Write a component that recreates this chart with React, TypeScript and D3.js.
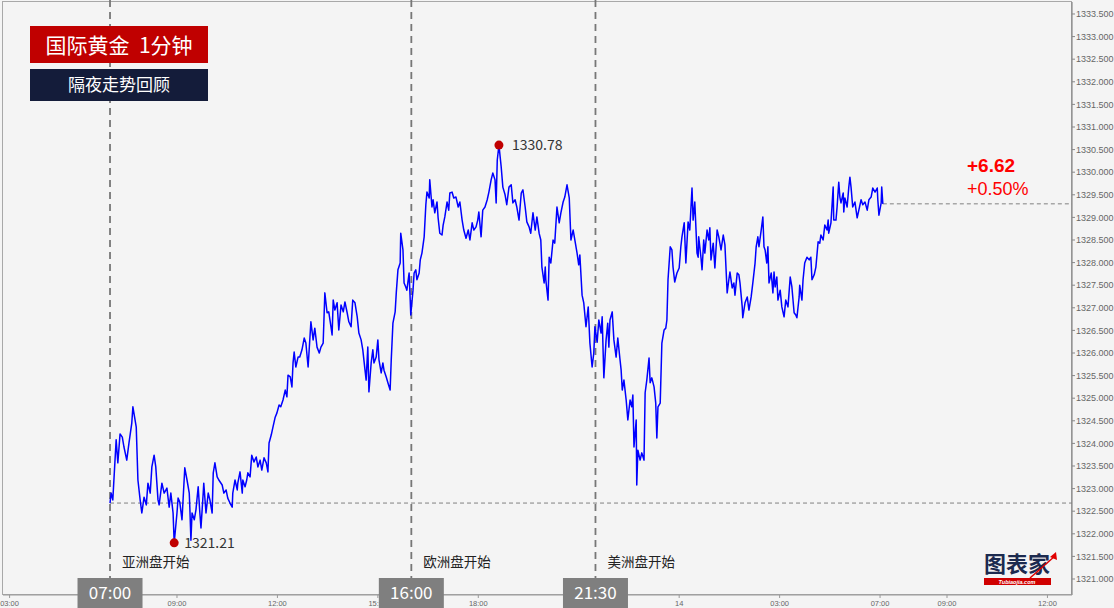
import React from 'react';
import * as d3 from 'd3';

// [trading minute since 07:00 on the 13th (05:00-06:00 pause removed), price]
type Pt = [number, number];

const asiaSession: Pt[] = [
  [0, 1322.68], [2, 1322.9], [5, 1322.75], [11, 1324.08], [14, 1323.57], [18, 1324.21], [22, 1324.14], [25, 1323.92],
  [30, 1323.63], [34, 1324.01], [39, 1324.45], [41, 1324.81], [47, 1324.36], [50, 1323.19], [54, 1322.75], [57, 1322.46],
  [61, 1322.81], [65, 1322.64], [68, 1323.12], [72, 1322.9], [75, 1323.48], [79, 1323.74], [82, 1323.48], [86, 1322.75],
  [88, 1322.64], [93, 1323.12], [97, 1322.9], [102, 1323.01], [106, 1322.59], [109, 1322.9], [113, 1322.46], [115, 1321.8],
  [120, 1322.46], [122, 1322.79], [125, 1322.7], [129, 1322.31], [134, 1323.46], [138, 1323.19], [142, 1322.9], [143, 1322.59],
  [145, 1321.86], [147, 1322.46], [151, 1322.31], [154, 1322.53], [158, 1323.04], [161, 1322.46], [163, 1322.13], [167, 1322.9],
  [168, 1323.12], [172, 1322.46], [176, 1322.9], [179, 1322.75], [183, 1322.46], [185, 1323.35], [188, 1323.57], [192, 1323.26],
  [195, 1323.19], [201, 1323.08], [204, 1322.9], [208, 1322.97], [211, 1322.79], [215, 1322.68], [219, 1322.59], [220, 1322.9],
  [224, 1323.19], [228, 1322.97], [229, 1323.12], [233, 1323.37], [237, 1322.9], [238, 1323.19], [242, 1323.04], [245, 1323.19],
  [247, 1323.35], [251, 1323.26], [254, 1323.74], [258, 1323.59], [262, 1323.7], [265, 1323.48], [269, 1323.63], [272, 1323.41],
  [276, 1323.68], [280, 1323.57], [283, 1323.37], [285, 1324.01], [289, 1324.19], [292, 1324.36], [296, 1324.58], [299, 1324.67],
  [303, 1324.85], [306, 1324.81], [310, 1324.96], [314, 1325.18], [317, 1325.03], [319, 1325.51], [323, 1325.47], [326, 1325.25],
  [328, 1325.78], [330, 1326.02], [333, 1325.69], [337, 1325.91], [340, 1325.91], [344, 1326.07], [348, 1326.33], [351, 1326.22],
  [355, 1325.69], [360, 1326.69], [364, 1326.29], [367, 1326.55], [371, 1326.13], [375, 1326.0], [378, 1326.13], [382, 1326.22],
  [385, 1327.33], [389, 1326.89], [392, 1326.91], [396, 1326.58], [398, 1326.4], [400, 1327.17], [403, 1326.95], [407, 1327.11],
  [410, 1326.51], [414, 1327.06], [418, 1326.91], [421, 1327.13], [425, 1326.89], [428, 1326.69], [432, 1326.58], [435, 1327.17],
  [439, 1327.11], [443, 1326.8], [446, 1326.44], [450, 1326.29], [453, 1326.07], [457, 1325.62], [459, 1325.4], [462, 1326.13],
  [464, 1325.14], [468, 1325.78], [471, 1326.07], [473, 1325.78], [477, 1325.91], [480, 1326.29], [482, 1325.85], [486, 1325.56],
  [489, 1325.78], [491, 1325.62], [495, 1325.47], [498, 1325.34], [502, 1325.18], [504, 1325.85], [507, 1326.66], [511, 1326.91],
  [513, 1327.33], [516, 1327.84], [520, 1327.99], [521, 1328.65], [525, 1328.28], [527, 1327.55], [530, 1327.46], [532, 1327.39],
  [536, 1327.77], [538, 1327.17], [539, 1326.84],
];

const europeSession: Pt[] = [
  [543, 1327.39], [545, 1327.77], [548, 1327.84], [550, 1327.62], [554, 1327.77], [556, 1328.06], [559, 1328.21], [563, 1328.57],
  [566, 1329.28], [568, 1329.56], [572, 1329.43], [573, 1329.83], [577, 1329.23], [579, 1329.39], [582, 1329.1], [586, 1329.34],
  [588, 1328.99], [591, 1328.65], [595, 1328.61], [597, 1328.83], [600, 1329.01], [604, 1329.34], [607, 1329.16], [609, 1329.54],
  [613, 1329.56], [616, 1329.43], [620, 1329.45], [624, 1329.23], [627, 1329.34], [631, 1328.94], [634, 1328.72], [638, 1328.54],
  [642, 1328.72], [645, 1328.5], [649, 1328.88], [652, 1328.72], [656, 1328.79], [659, 1328.94], [661, 1329.12], [665, 1328.57],
  [668, 1329.16], [672, 1329.23], [676, 1329.39], [679, 1329.56], [683, 1329.83], [686, 1329.98], [690, 1329.83], [692, 1329.32],
  [694, 1330.27], [697, 1330.6], [701, 1330.12], [704, 1329.67], [708, 1329.5], [711, 1329.28], [715, 1329.67], [719, 1329.72],
  [722, 1329.32], [726, 1329.39], [729, 1329.23], [733, 1328.94], [737, 1329.54], [740, 1329.61], [744, 1329.23], [747, 1328.9],
  [751, 1328.79], [754, 1328.65], [758, 1329.1], [762, 1328.72], [765, 1329.01], [769, 1328.65], [772, 1328.5], [774, 1327.9],
  [778, 1327.55], [780, 1327.9], [781, 1327.62], [785, 1327.17], [787, 1328.12], [790, 1327.99], [794, 1328.5], [797, 1328.43],
  [801, 1329.23], [805, 1328.88], [808, 1329.1], [812, 1329.34], [815, 1329.45], [819, 1329.72], [823, 1329.43], [826, 1328.5],
  [830, 1328.72], [833, 1328.5], [837, 1328.21], [840, 1327.95], [842, 1328.17], [846, 1327.28], [849, 1327.11], [853, 1326.58],
  [857, 1327.02], [860, 1326.22], [864, 1325.69], [867, 1326.0], [869, 1326.58],
];

const usSession: Pt[] = [
  [873, 1326.24], [876, 1326.73], [880, 1326.44], [882, 1326.8], [885, 1325.45], [889, 1326.29], [892, 1326.66], [894, 1326.13],
  [896, 1326.73], [900, 1326.91], [903, 1326.29], [907, 1325.91], [910, 1326.33], [914, 1325.85], [916, 1325.62], [918, 1325.18],
  [921, 1325.4], [925, 1324.96], [928, 1324.52], [932, 1324.96], [935, 1324.81], [937, 1325.07], [939, 1323.92], [943, 1324.52],
  [944, 1323.08], [946, 1323.85], [950, 1323.63], [953, 1323.79], [957, 1323.63], [959, 1325.12], [962, 1325.4], [966, 1325.89],
  [968, 1325.34], [971, 1325.45], [975, 1325.25], [978, 1324.89], [980, 1324.12], [982, 1324.81], [986, 1324.89], [989, 1326.22],
  [993, 1326.51], [996, 1326.55], [998, 1326.73], [1000, 1327.62], [1004, 1328.35], [1007, 1328.28], [1009, 1327.9], [1012, 1327.57],
  [1016, 1327.77], [1020, 1327.88], [1023, 1328.35], [1025, 1328.57], [1029, 1328.88], [1032, 1327.99], [1036, 1328.9], [1039, 1328.72],
  [1043, 1329.65], [1045, 1328.94], [1048, 1329.34], [1052, 1328.21], [1054, 1328.12], [1055, 1328.57], [1059, 1328.12], [1061, 1327.84],
  [1064, 1328.5], [1066, 1328.21], [1070, 1328.72], [1073, 1328.5], [1075, 1328.77], [1077, 1328.06], [1081, 1328.43], [1084, 1327.88],
  [1088, 1328.72], [1091, 1328.57], [1095, 1328.28], [1099, 1328.61], [1102, 1328.39], [1106, 1327.33], [1109, 1327.62], [1111, 1327.79],
  [1115, 1327.44], [1118, 1327.55], [1120, 1327.28], [1124, 1327.77], [1127, 1327.73], [1129, 1327.55], [1133, 1327.02], [1134, 1326.78],
  [1138, 1327.11], [1142, 1327.24], [1145, 1326.95], [1149, 1327.24], [1152, 1327.55], [1156, 1327.99], [1158, 1328.35], [1161, 1328.57],
  [1163, 1328.35], [1167, 1328.72], [1170, 1329.01], [1172, 1328.35], [1174, 1328.28], [1177, 1327.99], [1179, 1328.35], [1181, 1327.55],
  [1185, 1327.77], [1188, 1327.33], [1190, 1327.79], [1192, 1327.46], [1195, 1327.68], [1197, 1327.17], [1201, 1327.39], [1204, 1327.02],
  [1208, 1326.8], [1211, 1327.17], [1215, 1327.02], [1219, 1327.68], [1222, 1327.46], [1226, 1326.89], [1229, 1326.84], [1231, 1326.78],
  [1235, 1327.24], [1236, 1327.5], [1240, 1327.17], [1242, 1327.62], [1245, 1327.99], [1249, 1328.12], [1253, 1328.06], [1256, 1328.12],
  [1258, 1327.62], [1262, 1327.73], [1265, 1327.9], [1269, 1328.46], [1272, 1328.43], [1274, 1328.61], [1278, 1328.5], [1281, 1328.83],
  [1285, 1328.72], [1287, 1328.94], [1288, 1328.65], [1292, 1328.88], [1296, 1329.67], [1297, 1328.94], [1301, 1328.94], [1303, 1329.23],
  [1306, 1329.78], [1308, 1329.45], [1310, 1329.32], [1314, 1329.54], [1315, 1329.12], [1317, 1329.43], [1321, 1329.23], [1324, 1329.67],
  [1326, 1329.89], [1328, 1329.67], [1331, 1329.23], [1335, 1329.34], [1339, 1328.99], [1342, 1329.16], [1346, 1329.39], [1349, 1329.28],
  [1353, 1329.34], [1357, 1329.16], [1360, 1329.39], [1364, 1329.45], [1367, 1329.65], [1371, 1329.56], [1375, 1329.65], [1376, 1329.39],
  [1378, 1329.05], [1382, 1329.32], [1383, 1329.67], [1385, 1329.3],
];

const openPrice = 1322.68;
const highLabel = '1330.78';
const lowLabel = '1321.21';
const titleText = '国际黄金  1分钟';
const subtitleText = '隔夜走势回顾';

// session start markers: [day, clock, label]
const sessions: [number, string, string][] = [
  [13, '07:00', '亚洲盘开始'],
  [13, '16:00', '欧洲盘开始'],
  [13, '21:30', '美洲盘开始'],
];

// bottom axis ticks: [day, clock, label]
const xTicks: [number, string, string][] = [
  [13, '03:00', '03:00'], [13, '09:00', '09:00'], [13, '12:00', '12:00'], [13, '15:00', '15:00'],
  [13, '18:00', '18:00'], [14, '00:00', '14'], [14, '03:00', '03:00'], [14, '07:00', '07:00'],
  [14, '09:00', '09:00'], [14, '12:00', '12:00'],
];

const yTicks = d3.range(1321, 1333.501, 0.5);

// wall clock -> trading minutes since 07:00 on the 13th, skipping the 05:00-06:00 pause
function tradingMinute(day: number, clock: string) {
  const [h, m] = clock.split(':').map(Number);
  let t = (day - 13) * 1440 + h * 60 + m - 420;
  if (day === 13 && h < 5) t += 60;
  if (day === 14 && h >= 6) t -= 60;
  return t;
}

const W = 1114;
const H = 608;
const plotLeft = 3;
const plotRight = 1072;
const plotTop = 2;
const plotBottom = 595;

const cjk = '"Noto Sans CJK SC", "Microsoft YaHei", sans-serif';
const latin = '"Liberation Sans", Arial, sans-serif';

export default function App() {
  const series = [...asiaSession, ...europeSession, ...usSession];

  const x = d3.scaleLinear().domain([-190, 1724]).range([4, plotRight]);
  const y = d3.scaleLinear().domain([1320.646, 1333.743]).range([plotBottom, 3]);

  const line = d3.line<Pt>().x(d => x(d[0])).y(d => y(d[1]));

  const hi = d3.greatest(series, d => d[1])!;
  const lo = d3.least(series, d => d[1])!;
  const last = series[series.length - 1];
  const change = last[1] - openPrice;
  const pct = (change / openPrice) * 100;
  const sign = change >= 0 ? '+' : '';

  return (
    <div style={{ position: 'fixed', left: 0, top: 0 }}>
      <svg width={W} height={H} style={{ display: 'block' }}>
        <rect x={0} y={0} width={W} height={H} fill="#f4f4f4" />
        <rect x={plotLeft - 0.5} y={plotTop - 0.5} width={plotRight - plotLeft} height={plotBottom - plotTop}
          fill="none" stroke="#a8a8a8" strokeWidth={1} />

        {/* right price axis */}
        <line x1={plotRight} x2={plotRight} y1={plotTop} y2={plotBottom} stroke="#888" strokeWidth={1.2} />
        {yTicks.map(v => (
          <g key={v} transform={`translate(0,${y(v)})`}>
            <line x1={plotRight} x2={plotRight + 3} stroke="#888" />
            <text x={plotRight + 4} dy="0.35em" fontSize={9} fill="#666" fontFamily={latin}>{v.toFixed(3)}</text>
          </g>
        ))}

        {/* bottom time axis */}
        <line x1={plotLeft} x2={plotRight} y1={plotBottom} y2={plotBottom} stroke="#999" strokeWidth={1} />
        {xTicks.map(([d, c, label], i) => {
          const px = x(tradingMinute(d, c));
          return (
            <g key={i}>
              <line x1={px} x2={px} y1={plotBottom} y2={plotBottom + 3} stroke="#999" />
              <text x={px} y={606} textAnchor="middle" fontSize={7.5} fill="#666" fontFamily={latin}>{label}</text>
            </g>
          );
        })}

        {/* open / last reference lines */}
        <line x1={x(series[0][0])} x2={plotRight} y1={y(openPrice)} y2={y(openPrice)}
          stroke="#808080" strokeWidth={1} strokeDasharray="4,3" />
        <line x1={x(last[0])} x2={plotRight} y1={y(last[1])} y2={y(last[1])}
          stroke="#808080" strokeWidth={1} strokeDasharray="4,3" />

        {/* session lines */}
        {sessions.map(([d, c, name]) => {
          const px = x(tradingMinute(d, c));
          return (
            <g key={c}>
              <line x1={px} x2={px} y1={0} y2={578} stroke="#777" strokeWidth={1.8} strokeDasharray="7,5" />
              <text x={px + 12} y={567} fontSize={13.5} fill="#222" fontFamily={cjk}>{name}</text>
            </g>
          );
        })}

        <path d={line(series) || ''} fill="none" stroke="#0000ff" strokeWidth={1.5} strokeLinejoin="round" />

        {/* high / low markers */}
        <circle cx={x(hi[0])} cy={y(hi[1])} r={4.5} fill="#c00000" />
        <text x={x(hi[0]) + 13} y={y(hi[1])} dy="0.35em" fontSize={14} fill="#333" fontFamily={cjk}>{highLabel}</text>
        <circle cx={x(lo[0])} cy={y(lo[1])} r={4.5} fill="#c00000" />
        <text x={x(lo[0]) + 10} y={y(lo[1])} dy="0.35em" fontSize={14} fill="#333" fontFamily={cjk}>{lowLabel}</text>

        {/* change */}
        <text x={967} y={172} fontSize={19} fontWeight="bold" fill="#ff0000" fontFamily={latin}>
          {sign}{change.toFixed(2)}
        </text>
        <text x={967} y={195} fontSize={18} fill="#ff0000" fontFamily={latin}>
          {sign}{pct.toFixed(2)}%
        </text>

        {/* session time boxes */}
        {sessions.map(([d, c]) => {
          const px = x(tradingMinute(d, c));
          return (
            <g key={'b' + c}>
              <rect x={px - 32.5} y={578} width={65} height={32} fill="#7f7f7f" />
              <text x={px} y={593} dy="0.36em" textAnchor="middle" fontSize={17} fill="#fff" fontFamily={cjk}>{c}</text>
            </g>
          );
        })}

        {/* title */}
        <rect x={30} y={26} width={178} height={37} fill="#c00000" />
        <text x={119} y={45} dy="0.36em" textAnchor="middle" fontSize={21} fill="#fff" fontFamily={cjk}
          style={{ whiteSpace: 'pre' }}>{titleText}</text>
        <rect x={30} y={69} width={178} height={32} fill="#141c3a" />
        <text x={119} y={85} dy="0.36em" textAnchor="middle" fontSize={17} fill="#fff" fontFamily={cjk}>{subtitleText}</text>

        {/* logo */}
        <g>
          <text x={1017} y={572} textAnchor="middle" fontSize={22} fontWeight="bold" fill="#1c2a4f" fontFamily={cjk}>图表家</text>
          <rect x={984} y={578} width={67} height={7} fill="#d00000" />
          <text x={1017} y={584} textAnchor="middle" fontSize={5.5} fontStyle="italic" fontWeight="bold" fill="#fff" fontFamily={latin}>Tubiaojia.com</text>
          <line x1={1030} y1={578} x2={1055} y2={556} stroke="#e00000" strokeWidth={1.5} />
          <path d="M1056,552 L1057,560 L1050,557 Z" fill="#e00000" />
        </g>
      </svg>
    </div>
  );
}
